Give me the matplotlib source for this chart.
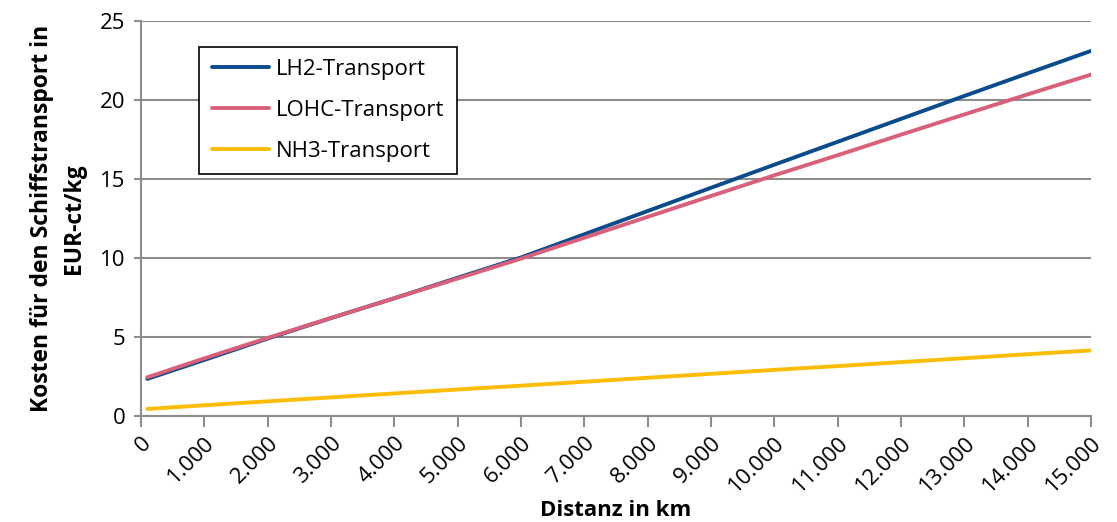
import matplotlib
matplotlib.use("Agg")
import matplotlib.pyplot as plt
from matplotlib.ticker import FuncFormatter, MultipleLocator

plt.rcParams['font.family'] = ['Open Sans', 'DejaVu Sans']

distance_km = [100, 1000, 2000, 3000, 4000, 5000, 6000, 7000, 8000, 9000,
               10000, 11000, 12000, 13000, 14000, 15000]
lh2_cost = [2.35, 3.55, 4.9, 6.2, 7.45, 8.75, 10.03, 11.5, 12.97, 14.44,
            15.9, 17.35, 18.8, 20.25, 21.68, 23.1]
lohc_cost = [2.45, 3.65, 4.94, 6.2, 7.45, 8.7, 9.96, 11.28, 12.6, 13.92,
             15.23, 16.5, 17.8, 19.08, 20.35, 21.6]
nh3_cost = [0.45, 0.68, 0.93, 1.18, 1.43, 1.68, 1.92, 2.17, 2.42, 2.67,
            2.92, 3.16, 3.41, 3.66, 3.91, 4.15]
series_names = ["LH2-Transport", "LOHC-Transport", "NH3-Transport"]
x_ticks = list(range(0, 15001, 1000))

colors = ["#0b4a8b", "#d9607a", "#fbbc05"]

fig = plt.figure(figsize=(11.17, 5.22), dpi=100)
ax = fig.add_axes([0.1262, 0.203, 0.8505, 0.757])

for vals, name, c in zip([lh2_cost, lohc_cost, nh3_cost], series_names, colors):
    ax.plot(distance_km, vals, color=c, lw=2.8, label=name, solid_capstyle='round')

ax.set_xlim(0, 15000)
ax.set_ylim(0, 25)
ax.yaxis.set_major_locator(MultipleLocator(5))
ax.set_xticks(x_ticks)
ax.xaxis.set_major_formatter(FuncFormatter(lambda v, p: f"{int(v):,}".replace(",", ".")))

ax.grid(axis='y', color='#8c8c8c', lw=1.5)
ax.set_axisbelow(True)
for s in ['top', 'right']:
    ax.spines[s].set_visible(False)
for s in ['left', 'bottom']:
    ax.spines[s].set_color('#8c8c8c')
    ax.spines[s].set_linewidth(1.5)

ax.tick_params(axis='x', length=8, width=1.5, color='#8c8c8c', labelsize=16, pad=4)
ax.tick_params(axis='y', length=5, width=1.5, color='#8c8c8c', labelsize=16, pad=6)
for lbl in ax.get_xticklabels():
    lbl.set_rotation(45)
    lbl.set_ha('right')
    lbl.set_va('top')
    lbl.set_rotation_mode('anchor')

ax.set_xlabel("Distanz in km", fontsize=16, fontweight='bold', labelpad=2)
ax.set_ylabel("Kosten für den Schiffstransport in\nEUR-ct/kg", fontsize=16.5,
              fontweight='bold', labelpad=10, linespacing=1.45)

leg = ax.legend(loc='upper left', bbox_to_anchor=(0.0615, 0.935), fontsize=16,
                frameon=True, fancybox=False, edgecolor='black', handlelength=2.6,
                borderpad=0.55, labelspacing=0.9, handletextpad=0.3, borderaxespad=0)
leg.get_frame().set_linewidth(1.2)
leg.get_frame().set_alpha(1)

fig.savefig("out.png", dpi=100)
